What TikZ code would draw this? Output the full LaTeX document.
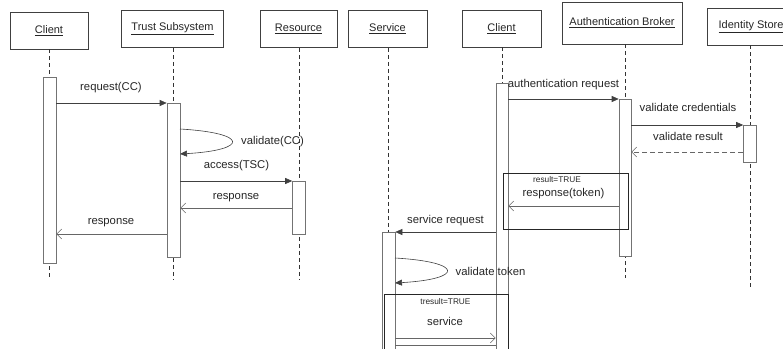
\documentclass[tikz,border=0pt]{standalone}
\usepackage{fontspec}
\setmainfont{Liberation Sans}
\usetikzlibrary{arrows.meta}
\begin{document}
\begin{tikzpicture}[x=1pt,y=-1pt,line width=0.6pt,
  hdr/.style={draw=black!75,fill=white,minimum height=37pt,inner sep=0pt,text=black!85,font=\fontsize{11}{13}\selectfont},
  life/.style={draw=black!80,dash pattern=on 4pt off 3pt},
  act/.style={draw=black!55,fill=white,minimum width=13pt,inner sep=0pt},
  sync/.style={draw=black!75,-{Triangle[length=7pt,width=6pt]}},
  reply/.style={draw=black!60,-{Straight Barb[length=5pt,width=10pt]}},
  lbl/.style={font=\fontsize{11.3}{13}\selectfont,inner sep=0pt,text=black!85},
  small/.style={font=\fontsize{8.3}{10}\selectfont,inner sep=0pt,text=black!85},
  frame/.style={draw=black!85,line width=0.8pt}]
\useasboundingbox (0,0) rectangle (783,348);
\clip (0,0) rectangle (783,348);
% headers
\node[hdr,minimum width=78pt]  (c1) at (49,30.5)   {\underline{Client}};
\node[hdr,minimum width=102pt] (ts) at (172.5,29)  {\underline{Trust Subsystem}};
\node[hdr,minimum width=77pt]  (rs) at (298.5,29)  {\underline{Resource}};
\node[hdr,minimum width=79pt]  (sv) at (387.5,29)  {\underline{Service}};
\node[hdr,minimum width=79pt]  (c2) at (501.5,28.5){\underline{Client}};
\node[hdr,minimum width=120pt,minimum height=42pt] (ab) at (622,23) {\underline{Authentication Broker}};
\node[hdr,minimum width=88pt]  (is) at (751,26.5)  {\underline{Identity Store}};
% lifeline ends
\coordinate (e1) at (49.5,279);
\coordinate (e2) at (173.5,279);
\coordinate (e3) at (299,279);
\coordinate (e5) at (625,278);
\coordinate (e6) at (750,290);
% activation positions
\coordinate (p1) at (49.5,170);
\coordinate (p2) at (173.5,180);
\coordinate (p3) at (299,207.5);
\coordinate (p4) at (502,221.5);
\coordinate (p5) at (625,177.5);
\coordinate (p6) at (750,143.5);
\coordinate (p7) at (388.5,296);
% lifelines
\draw[life] (c1.south -| e1) -- (e1);
\draw[life] (ts.south -| e2) -- (e2);
\draw[life] (rs.south -| e3) -- (e3);
\draw[life] (sv.south -| p7) -- (p7);
\draw[life] (c2.south -| p4) -- (p4);
\draw[life] (ab.south -| e5) -- (e5);
\draw[life] (is.south -| e6) -- (e6);
% activations over lifelines
\node[act,minimum height=186pt] (a1) at (p1) {};
\node[act,minimum height=154pt] (a2) at (p2) {};
\node[act,minimum height=53pt]  (a3) at (p3) {};
\node[act,minimum height=277pt,minimum width=12pt] (a4) at (p4) {};
\node[act,minimum height=157pt,minimum width=12pt] (a5) at (p5) {};
\node[act,minimum height=37pt]  (a6) at (p6) {};
\node[act,minimum height=128pt] (a7) at (p7) {};
% left side messages
\draw[sync] (a1.east |- 0,103) -- (a2.west |- 0,103);
\node[lbl] (l1) at (111,88) {request(CC)};
\coordinate (v1s) at (180,129);
\coordinate (v1e) at (180,154);
\draw[sync] (v1s) .. controls (249,133) and (249,150) .. (v1e);
\node[lbl] (l2) at (272.5,142) {validate(CC)};
\draw[sync] (a2.east |- 0,181) -- (a3.west |- 0,181);
\node[lbl] (l3) at (236.5,166) {access(TSC)};
\draw[reply] (a3.west |- 0,208) -- (a2.east |- 0,208);
\node[lbl] (l4) at (236,198) {response};
\draw[reply] (a2.west |- 0,234) -- (a1.east |- 0,234);
\node[lbl] (l5) at (111,223) {response};
% right side messages
\draw[sync] (a4.east |- 0,99) -- (a5.west |- 0,99);
\node[lbl] (l6) at (563.5,85) {authentication request};
\draw[sync] (a5.east |- 0,125) -- (a6.west |- 0,125);
\node[lbl] (l7) at (688,107) {validate credentials};
\draw[reply,dash pattern=on 5pt off 3pt] (a6.west |- 0,152) -- (a5.east |- 0,152);
\node[lbl] (l8) at (688,136) {validate result};
\draw[frame] (503,173) rectangle (628,229);
\node[small] (l9) at (557,180) {result=TRUE};
\node[lbl] (l10) at (563.5,194) {response(token)};
\draw[reply] (a5.west |- 0,206) -- (a4.east |- 0,206);
\draw[sync] (a4.west |- 0,232) -- (a7.east |- 0,232);
\node[lbl] (l11) at (445.5,221) {service request};
\coordinate (v2s) at (395,258);
\coordinate (v2e) at (395,283);
\draw[sync] (v2s) .. controls (464,262) and (464,279) .. (v2e);
\node[lbl] (l12) at (490.5,271) {validate token};
\draw[frame] (384,294) rectangle (508,360);
\node[small] (l13) at (445.5,302) {tresult=TRUE};
\node[lbl] (l14) at (445,321) {service};
\draw[reply] (a7.east |- 0,338) -- (a4.west |- 0,338);
\draw[draw=black!60] (a7.east |- 0,345.5) -- (a4.west |- 0,345.5);
\end{tikzpicture}
\end{document}
